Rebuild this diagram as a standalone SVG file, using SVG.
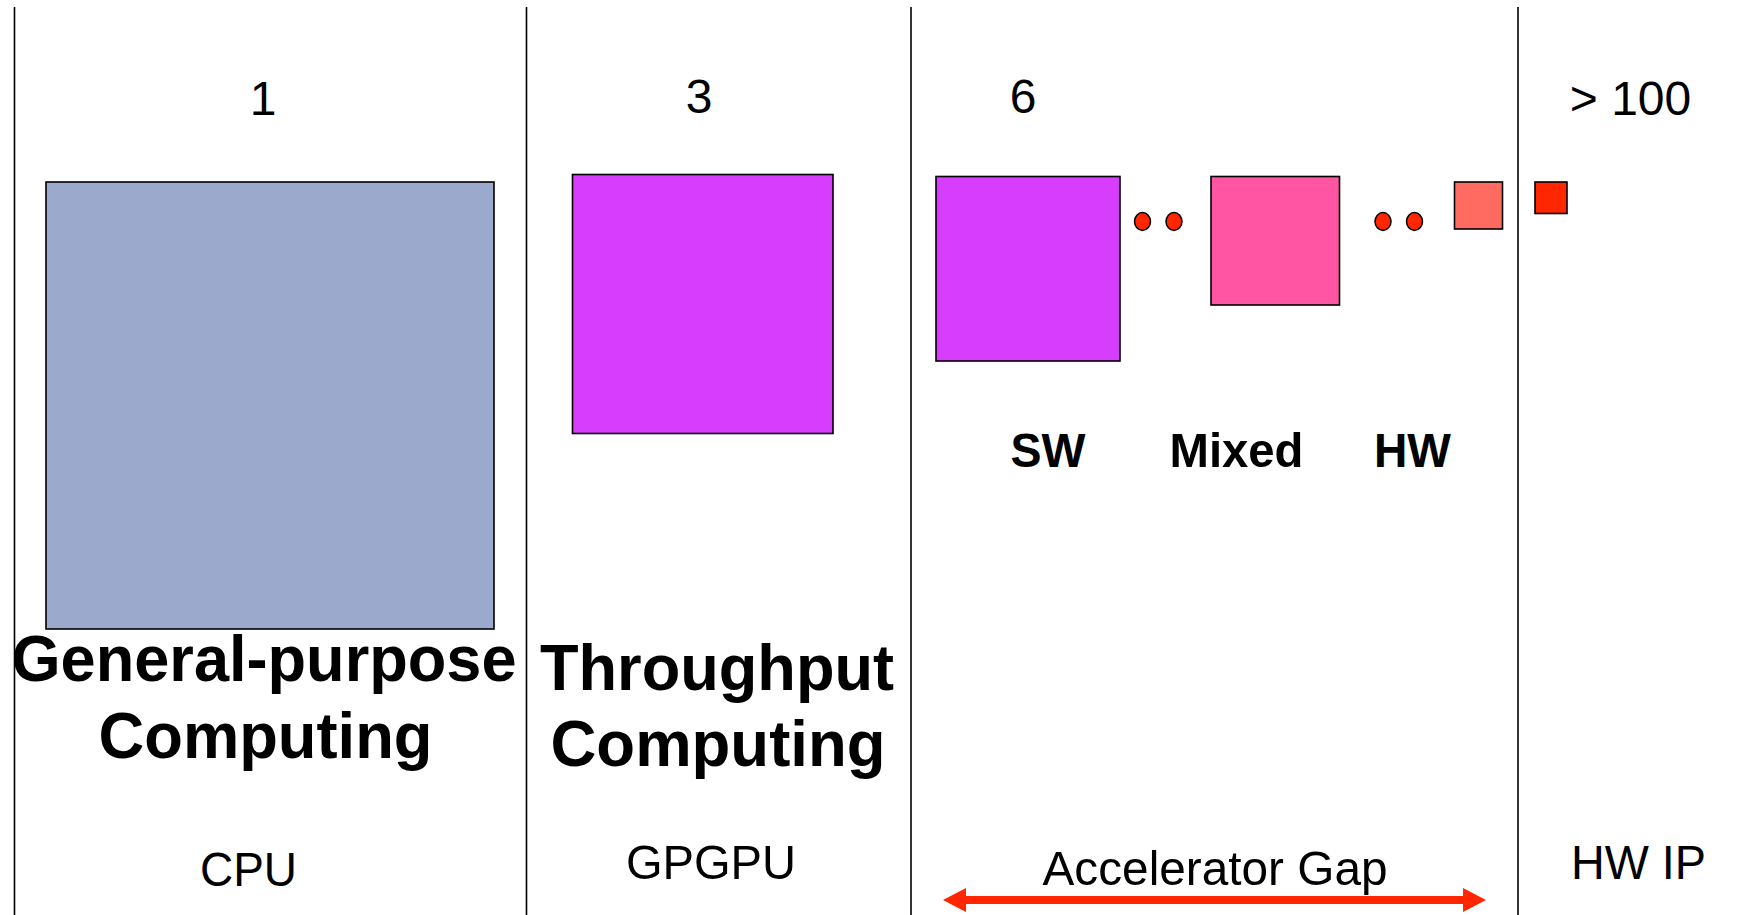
<svg xmlns="http://www.w3.org/2000/svg" width="1753" height="915" viewBox="0 0 1753 915">
  <defs>
    <style>
      text { font-family: "Liberation Sans", Arial, sans-serif; fill: #000; }
      .num { font-size: 48px; text-anchor: middle; }
      .lbl { font-size: 49px; text-anchor: middle; }
      .big { font-size: 64px; font-weight: bold; text-anchor: middle; }
      .mid { font-size: 49px; font-weight: bold; text-anchor: middle; }
      .box { stroke: #000; stroke-width: 1.6; }
      .dot { fill: #FF2600; stroke: #000; stroke-width: 1.5; }
      .sep { stroke: #000; stroke-width: 1.6; }
    </style>
    <marker id="head" viewBox="0 0 23 24" refX="0" refY="12" markerWidth="23" markerHeight="24" markerUnits="userSpaceOnUse" orient="auto-start-reverse">
      <path d="M0,0 L23,12 L0,24 Z" fill="#FF2600"/>
    </marker>
  </defs>
  <rect width="1753" height="915" fill="#fff"/>

  <!-- column separators -->
  <g id="separators">
    <line class="sep" x1="14.5" y1="7" x2="14.5" y2="915"/>
    <line class="sep" x1="526.5" y1="7" x2="526.5" y2="915"/>
    <line class="sep" x1="911" y1="7" x2="911" y2="915"/>
    <line class="sep" x1="1518" y1="7" x2="1518" y2="915"/>
  </g>

  <!-- CPU column -->
  <g id="cpu">
    <text class="num" x="263" y="115">1</text>
    <rect class="box" x="46" y="182" width="448" height="447" fill="#9BAACC"/>
    <text class="big" x="264" y="681" textLength="505" lengthAdjust="spacingAndGlyphs">General-purpose</text>
    <text class="big" x="265.5" y="758" textLength="334" lengthAdjust="spacingAndGlyphs">Computing</text>
    <text class="lbl" x="248.5" y="886" textLength="97" lengthAdjust="spacingAndGlyphs">CPU</text>
  </g>

  <!-- GPGPU column -->
  <g id="gpgpu">
    <text class="num" x="699" y="113">3</text>
    <rect class="box" x="572.5" y="174.5" width="260.5" height="259" fill="#D63DFD"/>
    <text class="big" x="717" y="690" textLength="354" lengthAdjust="spacingAndGlyphs">Throughput</text>
    <text class="big" x="718" y="766" textLength="335" lengthAdjust="spacingAndGlyphs">Computing</text>
    <text class="lbl" x="711" y="879" textLength="170" lengthAdjust="spacingAndGlyphs">GPGPU</text>
  </g>

  <!-- accelerator column -->
  <g id="accelerators">
    <text class="num" x="1023" y="113">6</text>
    <rect class="box" x="936" y="176.5" width="184" height="184.5" fill="#D63DFD"/>
    <ellipse class="dot" cx="1142.5" cy="221.5" rx="8" ry="9"/>
    <ellipse class="dot" cx="1174" cy="221.5" rx="8" ry="9"/>
    <rect class="box" x="1211" y="176.5" width="128.5" height="128.5" fill="#FF55A3"/>
    <ellipse class="dot" cx="1383" cy="221.5" rx="8" ry="9"/>
    <ellipse class="dot" cx="1414.5" cy="221.5" rx="8" ry="9"/>
    <rect class="box" x="1454.5" y="182" width="48" height="47" fill="#FF6B60"/>
    <text class="mid" x="1048" y="467" textLength="75" lengthAdjust="spacingAndGlyphs">SW</text>
    <text class="mid" x="1236.5" y="467" textLength="134" lengthAdjust="spacingAndGlyphs">Mixed</text>
    <text class="mid" x="1412.5" y="467" textLength="77" lengthAdjust="spacingAndGlyphs">HW</text>
    <text class="lbl" x="1215" y="885" textLength="345" lengthAdjust="spacingAndGlyphs">Accelerator Gap</text>
  </g>

  <!-- hardware IP column -->
  <g id="hwip">
    <text class="num" x="1630.5" y="115">&gt; 100</text>
    <rect class="box" x="1535" y="182" width="32" height="31.5" fill="#FF2600"/>
    <text class="lbl" x="1638.5" y="879" textLength="135" lengthAdjust="spacingAndGlyphs">HW IP</text>
  </g>

  <!-- gap span arrow -->
  <g id="connectors">
    <line x1="966" y1="900" x2="1463" y2="900" stroke="#FF2600" stroke-width="8" marker-start="url(#head)" marker-end="url(#head)"/>
  </g>
</svg>
